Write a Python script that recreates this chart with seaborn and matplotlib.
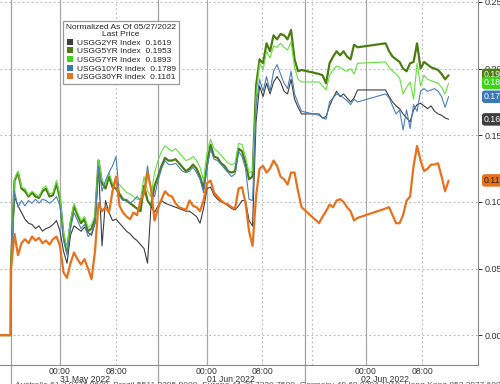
import numpy as np
import pandas as pd
import matplotlib
matplotlib.use("Agg")
import matplotlib.pyplot as plt
import matplotlib.transforms as mtransforms
from matplotlib.patches import Patch
import seaborn as sns

# ---------------- data ----------------
series_names = ["USGG2YR Index", "USGG5YR Index", "USGG7YR Index", "USGG10YR Index", "USGG30YR Index"]
last_prices = [0.1619, 0.1953, 0.1893, 0.1789, 0.1161]

# session time (hours from 00:00 31 May, compressed session clock)
t_pre = [-8.6, -7.05]
t_seg1 = np.arange(-7.0, 34.51, 0.5)
t_seg2 = np.arange(37.0, 42.51, 0.5)
t_seg3 = np.arange(46.5, 55.51, 0.5)

usgg2 = [0.0, 0.0,
    0.050, 0.104, 0.097, 0.092, 0.087, 0.084, 0.083, 0.080, 0.082, 0.078,
    0.080, 0.081, 0.083, 0.086, 0.078, 0.063, 0.054, 0.075, 0.082, 0.080,
    0.078, 0.081, 0.077, 0.075, 0.084, 0.127, 0.067, 0.101, 0.092, 0.086,
    0.087, 0.084, 0.081, 0.078, 0.076, 0.073, 0.071, 0.068, 0.065, 0.054,
    0.097, 0.092, 0.097, 0.101, 0.099, 0.098, 0.097, 0.096, 0.095, 0.094,
    0.093, 0.093, 0.091, 0.089, 0.084, 0.095, 0.110, 0.111, 0.105, 0.102,
    0.100, 0.099, 0.097, 0.095, 0.094, 0.097, 0.101, 0.101, 0.086, 0.082,
    0.160, 0.187, 0.179, 0.189, 0.181, 0.190, 0.194, 0.190, 0.183, 0.181,
    0.192, 0.177, 0.171, 0.166,
    0.166, 0.163, 0.164, 0.172, 0.178, 0.183, 0.179, 0.181, 0.178, 0.175, 0.178, 0.184,
    0.184, 0.179, 0.175, 0.172, 0.170, 0.166, 0.163, 0.160, 0.169, 0.173,
    0.174, 0.172, 0.170, 0.172, 0.168, 0.166, 0.165, 0.163, 0.162]

usgg5 = [0.0, 0.0,
    0.052, 0.116, 0.122, 0.110, 0.108, 0.104, 0.107, 0.104, 0.103, 0.108,
    0.110, 0.104, 0.105, 0.114, 0.102, 0.075, 0.063, 0.084, 0.097, 0.090,
    0.084, 0.087, 0.078, 0.080, 0.087, 0.131, 0.114, 0.110, 0.119, 0.111,
    0.110, 0.106, 0.102, 0.101, 0.099, 0.097, 0.095, 0.093, 0.112, 0.101,
    0.097, 0.112, 0.119, 0.127, 0.133, 0.131, 0.131, 0.132, 0.129, 0.126,
    0.123, 0.125, 0.128, 0.125, 0.119, 0.110, 0.128, 0.143, 0.134, 0.133,
    0.129, 0.127, 0.123, 0.122, 0.123, 0.140, 0.138, 0.129, 0.117, 0.119,
    0.187, 0.207, 0.204, 0.219, 0.213, 0.225, 0.222, 0.226, 0.225, 0.222,
    0.229, 0.207, 0.198, 0.199,
    0.196, 0.195, 0.189, 0.204, 0.209, 0.213, 0.210, 0.213, 0.209, 0.207, 0.218, 0.216,
    0.219, 0.213, 0.209, 0.207, 0.205, 0.200, 0.198, 0.204, 0.205, 0.219,
    0.200, 0.205, 0.203, 0.201, 0.200, 0.199, 0.196, 0.192, 0.195]

usgg7 = [0.0, 0.0,
    0.050, 0.117, 0.123, 0.111, 0.110, 0.105, 0.108, 0.106, 0.104, 0.110,
    0.112, 0.106, 0.107, 0.116, 0.104, 0.077, 0.065, 0.086, 0.099, 0.092,
    0.086, 0.089, 0.081, 0.083, 0.090, 0.132, 0.116, 0.113, 0.122, 0.114,
    0.114, 0.113, 0.110, 0.107, 0.106, 0.104, 0.102, 0.102, 0.119, 0.108,
    0.104, 0.122, 0.131, 0.138, 0.142, 0.140, 0.138, 0.140, 0.137, 0.134,
    0.131, 0.132, 0.134, 0.131, 0.126, 0.116, 0.137, 0.147, 0.140, 0.138,
    0.135, 0.132, 0.129, 0.128, 0.129, 0.144, 0.143, 0.134, 0.122, 0.123,
    0.179, 0.204, 0.199, 0.213, 0.208, 0.217, 0.216, 0.219, 0.216, 0.214,
    0.220, 0.201, 0.192, 0.190,
    0.190, 0.187, 0.184, 0.195, 0.199, 0.202, 0.201, 0.199, 0.198, 0.200, 0.196, 0.204,
    0.205, 0.201, 0.198, 0.196, 0.193, 0.181, 0.186, 0.190, 0.177, 0.204,
    0.187, 0.195, 0.192, 0.191, 0.190, 0.189, 0.186, 0.181, 0.189]

usgg10 = [0.0, 0.0,
    0.050, 0.108, 0.096, 0.101, 0.097, 0.101, 0.099, 0.102, 0.099, 0.102,
    0.101, 0.099, 0.101, 0.104, 0.097, 0.071, 0.060, 0.080, 0.092, 0.086,
    0.080, 0.083, 0.074, 0.077, 0.084, 0.127, 0.108, 0.116, 0.122, 0.127,
    0.134, 0.104, 0.101, 0.102, 0.099, 0.101, 0.104, 0.101, 0.108, 0.127,
    0.108, 0.104, 0.116, 0.125, 0.131, 0.128, 0.128, 0.129, 0.126, 0.123,
    0.122, 0.123, 0.126, 0.122, 0.117, 0.107, 0.126, 0.140, 0.132, 0.131,
    0.128, 0.125, 0.122, 0.119, 0.121, 0.138, 0.134, 0.125, 0.102, 0.101,
    0.172, 0.192, 0.183, 0.194, 0.183, 0.198, 0.203, 0.196, 0.189, 0.185,
    0.198, 0.181, 0.174, 0.168,
    0.165, 0.163, 0.162, 0.175, 0.178, 0.181, 0.180, 0.178, 0.176, 0.173, 0.177, 0.175,
    0.181, 0.178, 0.172, 0.166, 0.169, 0.154, 0.169, 0.155, 0.173, 0.168,
    0.183, 0.185, 0.183, 0.184, 0.185, 0.183, 0.179, 0.171, 0.179]

usgg30 = [0.0, 0.0,
    0.050, 0.076, 0.060, 0.069, 0.072, 0.069, 0.074, 0.071, 0.073, 0.069,
    0.071, 0.068, 0.072, 0.074, 0.067, 0.047, 0.043, 0.054, 0.062, 0.057,
    0.053, 0.057, 0.050, 0.042, 0.063, 0.099, 0.093, 0.096, 0.092, 0.108,
    0.119, 0.097, 0.092, 0.089, 0.087, 0.092, 0.090, 0.101, 0.106, 0.122,
    0.110, 0.086, 0.095, 0.102, 0.108, 0.105, 0.104, 0.099, 0.096, 0.095,
    0.094, 0.101, 0.097, 0.096, 0.093, 0.101, 0.114, 0.116, 0.107, 0.104,
    0.101, 0.099, 0.098, 0.096, 0.095, 0.110, 0.111, 0.099, 0.078, 0.067,
    0.104, 0.125, 0.127, 0.122, 0.125, 0.131, 0.127, 0.119, 0.117, 0.113,
    0.122, 0.122, 0.108, 0.096,
    0.084, 0.089, 0.093, 0.098, 0.096, 0.101, 0.102, 0.100, 0.096, 0.093, 0.086, 0.088,
    0.095, 0.096, 0.090, 0.084, 0.084, 0.090, 0.101, 0.104, 0.127, 0.142,
    0.131, 0.123, 0.125, 0.128, 0.128, 0.129, 0.119, 0.108, 0.116]

tick_pos = [0, 8, 21, 28.86, 43.71, 51.71]
tick_labels = ["00:00", "08:00", "00:00", "08:00", "00:00", "08:00"]
minor_pos = [-4, 4, 11.86, 17.14, 24.71, 32.43, 40, 48.14, 55.71]
day_bounds = [-7.0, 14.0, 35.0]
date_pos = [3.57, 24.43, 46.43]
date_labels = ["31 May 2022", "01 Jun 2022", "02 Jun 2022"]
yticks = [0.0, 0.05, 0.10, 0.15, 0.20, 0.25]

# ---------------- build frame ----------------
t = np.concatenate([t_pre, t_seg1, t_seg2, t_seg3])
values = [usgg2, usgg5, usgg7, usgg10, usgg30]
for v in values:
    assert len(v) == len(t), (len(v), len(t))
df = pd.concat([pd.DataFrame({"t": t, "v": v, "series": n}) for n, v in zip(series_names, values)])

colors = ["#3d3d3d", "#4c7d12", "#62e03a", "#4a7fb8", "#e8711c"]
tag_colors = ["#3d3d3d", "#4c7d12", "#3ed41a", "#3a78b8", "#e8711c"]
widths = [0.8, 1.6, 0.8, 0.8, 1.6]

# ---------------- plot ----------------
sns.set_style("white")
plt.rcParams["font.family"] = ["Liberation Sans Narrow", "Liberation Sans", "DejaVu Sans"]

fig = plt.figure(figsize=(5.0, 3.84), dpi=100)
ax = fig.add_axes([0.0, 0.0495, 0.956, 0.9505])

for name, c, w in zip(series_names, colors, widths):
    sns.lineplot(data=df[df.series == name], x="t", y="v", color=c, linewidth=w,
                 estimator=None, sort=False, ax=ax, legend=False, zorder=3)

ax.set_xlim(-8.57, 59.7)
ax.set_ylim(-0.0224, 0.2515)
ax.set_xlabel("")
ax.set_ylabel("")

# grid
for y in yticks:
    ax.axhline(y, color="#b5b5b5", lw=0.8, ls=(0, (1.5, 2.5)), zorder=1)
for x in tick_pos[0::2]:
    ax.axvline(x, color="#a8a8a8", lw=0.9, zorder=1)
for x in tick_pos[1::2] + [36.0]:
    ax.axvline(x, color="#b5b5b5", lw=0.8, ls=(0, (1.5, 2.5)), zorder=1)
for x in day_bounds:
    ax.axvline(x, ymin=-0.055, ymax=1.0, color="#a0a0a0", lw=0.9, clip_on=False, zorder=1)

# spines
for s in ["left", "top"]:
    ax.spines[s].set_visible(False)
for s in ["right", "bottom"]:
    ax.spines[s].set_color("#8a8a8a")
    ax.spines[s].set_linewidth(0.8)

# y axis on the right
ax.yaxis.tick_right()
ax.set_yticks(yticks)
ax.set_yticklabels([f"{y:.2f}" for y in yticks])
ax.tick_params(axis="y", direction="out", length=3, width=0.7, pad=2,
               labelsize=6.5, colors="#333333")

# x axis
ax.set_xticks(tick_pos)
ax.set_xticklabels(tick_labels)
ax.set_xticks(minor_pos, minor=True)
ax.tick_params(axis="x", which="major", direction="out", length=1.5, width=0.6,
               pad=0.2, labelsize=6.2, colors="#333333")
ax.tick_params(axis="x", which="minor", direction="out", length=2, width=0.6,
               colors="#8a8a8a")
for xp, lab in zip(date_pos, date_labels):
    ax.text(xp, -0.041, lab, transform=mtransforms.blended_transform_factory(ax.transData, ax.transAxes),
            ha="center", va="center", fontsize=6.2, color="#333333", clip_on=False)

# legend
handles = [Patch(facecolor=c, edgecolor="none") for c in tag_colors]
labels = [f"{n}  {p:.4f}" for n, p in zip(series_names, last_prices)]
leg = ax.legend(handles, labels, title="Normalized As Of 05/27/2022\nLast Price",
                loc="upper left", bbox_to_anchor=(0.132, 0.942), borderaxespad=0,
                fontsize=6.0, title_fontsize=6.0, handlelength=0.8, handleheight=0.75,
                handletextpad=0.4, labelspacing=0.08, borderpad=0.35,
                frameon=True, fancybox=False, edgecolor="#9a9a9a", framealpha=1)
leg.get_frame().set_linewidth(0.9)
leg.get_title().set_multialignment("center")
leg.get_title().set_linespacing(1.0)
leg.set_zorder(10)

# last-price tags on the right
bt = mtransforms.blended_transform_factory(ax.transAxes, ax.transData)
for p, c in zip(last_prices, tag_colors):
    tc = "#222222" if c == "#e8711c" else "white"
    ax.text(1.012, p, f"{p:.4f}", transform=bt, ha="left", va="center", fontsize=6.3,
            color=tc, clip_on=False, zorder=12,
            bbox=dict(boxstyle="round,pad=0.2,rounding_size=0.3", fc=c, ec="none"))

# cut-off source footer
fig.text(0.03, -0.003, "Australia 61 2 9777 8600  Brazil 5511 2395 9000  Europe 44 20 7330 7500  Germany 49 69 9204 1210  Hong Kong 852 2977 6000",
         fontsize=6, color="#555555", va="center", ha="left")

fig.savefig("out.png", dpi=100)
